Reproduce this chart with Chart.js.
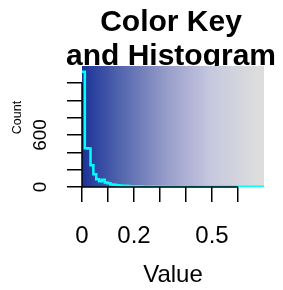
<!DOCTYPE html>
<html>
<head>
<meta charset="utf-8">
<script src="https://cdn.jsdelivr.net/npm/chart.js@4"></script>
<style>
  html, body { margin: 0; padding: 0; background: #fff; }
  canvas { display: block; }
</style>
</head>
<body>
<canvas id="keyChart" width="283" height="290"></canvas>
<script>
// histogram of values, 64 equal bins between 0 and 0.7
const valueMin = 0;
const valueMax = 0.7;
const counts = [
    1330, 447, 445, 252, 146, 90, 66, 85, 52, 44, 30, 26, 21, 17, 15, 13,
    12, 10, 9, 8, 8, 7, 7, 6, 6, 6, 5, 5, 5, 5, 5, 4,
    4, 4, 4, 4, 4, 4, 4, 4, 4, 4, 4, 4, 4, 4, 4, 4,
    4, 4, 4, 4, 4, 4, 4, 4, 4, 4, 4, 4, 4, 4, 4, 4
];
const xTicks = [0, 0.1, 0.2, 0.3, 0.4, 0.5, 0.6];
const xLabels = { 0: '0', 0.2: '0.2', 0.5: '0.5' };
const yTicks = [0, 200, 400, 600, 800, 1000, 1200];
const yLabels = { 0: '0', 600: '600' };
const keyColors = ['#1b3398', '#5a6cb0', '#9ba0cb', '#c5c7de', '#dcdcdd', '#dddddd'];
const keyStops = [0, 0.24, 0.48, 0.70, 0.95, 1];

// step points like R's lines(type = "s"): one per break, last count repeated
const binWidth = (valueMax - valueMin) / counts.length;
const points = counts.map((c, i) => ({ x: valueMin + i * binWidth, y: c }));
points.push({ x: valueMax, y: counts[counts.length - 1] });

const FONT = '"Liberation Sans", Arial, Helvetica, sans-serif';

const keyPlugin = {
    id: 'keyPlugin',
    beforeDraw(chart) {
        const { ctx, chartArea: a } = chart;
        ctx.save();
        ctx.fillStyle = '#000';
        ctx.textAlign = 'center';
        ctx.textBaseline = 'alphabetic';
        ctx.font = 'bold 30px ' + FONT;
        ctx.fillText('Color Key', 171, 30.5);
        ctx.fillText('and Histogram', 171, 65);
        // colour key drawn on top of the title's descenders, like the original
        const g = ctx.createLinearGradient(a.left, 0, a.right, 0);
        keyColors.forEach((c, i) => g.addColorStop(keyStops[i], c));
        ctx.fillStyle = g;
        ctx.fillRect(a.left, a.top, a.right - a.left, a.bottom - a.top);
        ctx.restore();
    },
    afterDraw(chart) {
        const { ctx, chartArea: a } = chart;
        const x = chart.scales.x, y = chart.scales.y;
        ctx.save();
        ctx.strokeStyle = '#000';
        ctx.lineWidth = 1.5;
        ctx.beginPath();
        ctx.moveTo(a.left, y.getPixelForValue(yTicks[0]));
        ctx.lineTo(a.left, y.getPixelForValue(yTicks[yTicks.length - 1]));
        ctx.moveTo(x.getPixelForValue(xTicks[0]), a.bottom);
        ctx.lineTo(x.getPixelForValue(xTicks[xTicks.length - 1]), a.bottom);
        ctx.stroke();

        ctx.fillStyle = '#000';
        ctx.textAlign = 'center';
        ctx.textBaseline = 'alphabetic';
        ctx.font = '24px ' + FONT;
        Object.keys(xLabels).forEach(v => {
            ctx.fillText(xLabels[v], x.getPixelForValue(+v), 242.5);
        });
        ctx.fillText('Value', (a.left + a.right) / 2, 281.5);

        ctx.font = '19px ' + FONT;
        Object.keys(yLabels).forEach(v => {
            ctx.save();
            ctx.translate(45.5, y.getPixelForValue(+v));
            ctx.rotate(-Math.PI / 2);
            ctx.fillText(yLabels[v], 0, 0);
            ctx.restore();
        });
        ctx.font = '12.5px ' + FONT;
        ctx.save();
        ctx.translate(21, 117.5);
        ctx.rotate(-Math.PI / 2);
        ctx.fillText('Count', 0, 0);
        ctx.restore();
        ctx.restore();
    }
};

new Chart(document.getElementById('keyChart'), {
    type: 'line',
    data: {
        datasets: [{
            data: points,
            stepped: 'before',
            borderColor: '#00ffff',
            borderWidth: 2.5,
            pointRadius: 0,
            fill: false
        }]
    },
    options: {
        responsive: false,
        animation: false,
        devicePixelRatio: 1,
        layout: { padding: { left: 0, top: 66, right: 19, bottom: 0 } },
        plugins: { legend: { display: false }, tooltip: { enabled: false }, title: { display: false } },
        scales: {
            x: {
                type: 'linear', min: valueMin, max: valueMax,
                afterBuildTicks: s => { s.ticks = xTicks.map(v => ({ value: v })); },
                afterFit: s => { s.height = 103; },
                ticks: { display: false },
                border: { display: false },
                grid: { drawOnChartArea: false, drawTicks: true, tickLength: 15, color: '#000', lineWidth: 1.5 }
            },
            y: {
                type: 'linear', min: 0, max: 1395,
                afterBuildTicks: s => { s.ticks = yTicks.map(v => ({ value: v })); },
                afterFit: s => { s.width = 82; },
                ticks: { display: false },
                border: { display: false },
                grid: { drawOnChartArea: false, drawTicks: true, tickLength: 15, color: '#000', lineWidth: 1.5 }
            }
        }
    },
    plugins: [keyPlugin]
});
</script>
</body>
</html>
